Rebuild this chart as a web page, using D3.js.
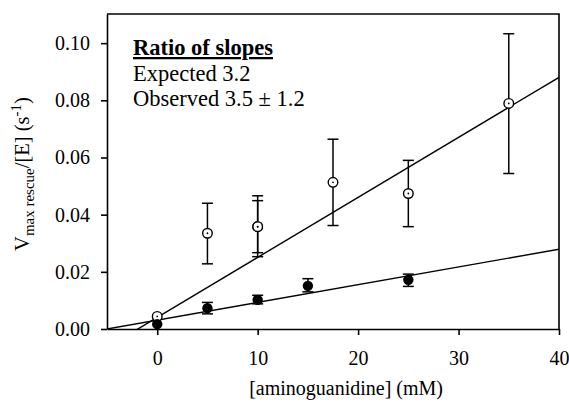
<!DOCTYPE html>
<html lang="en">
<head>
<meta charset="UTF-8">
<title>Vmax rescue vs aminoguanidine</title>
<style>
  html, body { margin: 0; padding: 0; background: #fff; overflow: hidden; }
  .tick line, .domain { stroke: #000; stroke-width: 1.6; }
</style>
<script src="https://cdn.jsdelivr.net/npm/d3@7"></script>
</head>
<body>
<svg id="chart" width="569" height="405" font-family="Liberation Serif"></svg>
<script>
// x values (mM) and y values (s^-1), with error bar ends
const openX   = [0, 5, 10, 10, 17.5, 25, 35]
const openY   = [0.0044, 0.0335, 0.0358, 0.0358, 0.0513, 0.0474, 0.0789]
const openLo  = [0.0044, 0.0228, 0.0253, 0.0267, 0.0362, 0.0358, 0.0544]
const openHi  = [0.0044, 0.0440, 0.0466, 0.0449, 0.0664, 0.0590, 0.1033]

const filledX  = [0, 5, 10, 15, 25]
const filledY  = [0.0017, 0.0073, 0.0102, 0.0151, 0.0172]
const filledLo = [0.0017, 0.0053, 0.0088, 0.0130, 0.0149]
const filledHi = [0.0017, 0.0093, 0.0118, 0.0176, 0.0192]

// linear fits: [slope, intercept]
const openFit   = [0.0021, 0.00405]
const filledFit = [0.00062, 0.0031]

const xTicks = [0, 10, 20, 30, 40]
const yTicks = [0, 0.02, 0.04, 0.06, 0.08, 0.10]

const legendLines = ['Expected 3.2', 'Observed 3.5 \u00b1 1.2']

const FONT = 'Liberation Serif'

const margin = { top: 14, right: 10, bottom: 76, left: 107 }
const svg = d3.select('#chart')
const W = +svg.attr('width') - margin.left - margin.right
const H = +svg.attr('height') - margin.top - margin.bottom

const chart = svg.append('g')
  .attr('transform', `translate(${margin.left}, ${margin.top})`)

const x = d3.scaleLinear().domain([-5, 40]).range([0, W])
const y = d3.scaleLinear().domain([0, 0.1102]).range([H, 0])

// axes
const xAxis = chart.append('g')
  .attr('transform', `translate(0, ${H})`)
  .call(d3.axisBottom(x).tickValues(xTicks).tickSize(6).tickPadding(16).tickSizeOuter(0))
const yAxis = chart.append('g')
  .call(d3.axisLeft(y).tickValues(yTicks).tickFormat(d3.format('.2f')).tickSize(6).tickPadding(11).tickSizeOuter(0))
xAxis.attr('font-family', FONT).attr('font-size', 20)
yAxis.attr('font-family', FONT).attr('font-size', 20)

// frame top + right
chart.append('path')
  .attr('d', `M0,0H${W}V${H}`)
  .attr('fill', 'none')
  .attr('stroke', '#000')
  .attr('stroke-width', 1.6)

// clip for fit lines
chart.append('clipPath').attr('id', 'clip')
  .append('rect').attr('width', W).attr('height', H)

const fitLine = (f) => {
  const xs = x.domain()
  return d3.line()(xs.map(v => [x(v), y(f[0] * v + f[1])]))
}
chart.append('path').attr('d', fitLine(openFit))
  .attr('clip-path', 'url(#clip)').attr('stroke', '#000').attr('stroke-width', 1.4).attr('fill', 'none')
chart.append('path').attr('d', fitLine(filledFit))
  .attr('clip-path', 'url(#clip)').attr('stroke', '#000').attr('stroke-width', 1.4).attr('fill', 'none')

// error bars
function errorBars(xs, lo, hi) {
  const g = chart.append('g').attr('stroke', '#000').attr('stroke-width', 1.5)
  xs.forEach((v, i) => {
    if (hi[i] - lo[i] < 0.001) return
    g.append('line').attr('x1', x(v)).attr('x2', x(v)).attr('y1', y(lo[i])).attr('y2', y(hi[i]))
    ;[lo[i], hi[i]].forEach(e => {
      g.append('line').attr('x1', x(v) - 5.5).attr('x2', x(v) + 5.5).attr('y1', y(e)).attr('y2', y(e))
    })
  })
}
errorBars(openX, openLo, openHi)
errorBars(filledX, filledLo, filledHi)

// open markers
chart.selectAll('.open').data(openX).enter().append('circle')
  .attr('class', 'open')
  .attr('cx', d => x(d)).attr('cy', (d, i) => y(openY[i]))
  .attr('r', 4.8).attr('fill', '#fff').attr('stroke', '#000').attr('stroke-width', 1.4)
chart.selectAll('.opendot').data(openX).enter().append('circle')
  .attr('class', 'opendot')
  .attr('cx', d => x(d)).attr('cy', (d, i) => y(openY[i]))
  .attr('r', 0.9).attr('fill', '#000')

// filled markers
chart.selectAll('.filled').data(filledX).enter().append('circle')
  .attr('class', 'filled')
  .attr('cx', d => x(d)).attr('cy', (d, i) => y(filledY[i]))
  .attr('r', 5.2).attr('fill', '#000')

// legend text
const legend = chart.append('g').attr('transform', 'translate(26, 41)')
legend.append('text')
  .attr('font-size', 22.5).attr('font-weight', 'bold')
  .attr('text-decoration', 'underline')
  .text('Ratio of slopes')
legend.selectAll('.lg').data(legendLines).enter().append('text')
  .attr('class', 'lg')
  .attr('y', (d, i) => 25.5 * (i + 1))
  .attr('font-size', 22.5)
  .text(d => d)

// axis labels
svg.append('text')
  .attr('x', margin.left + x(18.8))
  .attr('y', 395)
  .attr('text-anchor', 'middle')
  .attr('font-size', 20)
  .text('[aminoguanidine] (mM)')

const yl = svg.append('text')
  .attr('transform', 'translate(28.5, 174) rotate(-90)')
  .attr('text-anchor', 'middle')
  .attr('font-size', 20.5)
yl.append('tspan').text('V')
yl.append('tspan').attr('font-size', 15).attr('dy', 5).text('max rescue')
yl.append('tspan').attr('dy', -5).text('/[E] (s')
yl.append('tspan').attr('font-size', 15).attr('dy', -8).text('-1')
yl.append('tspan').attr('dy', 8).text(')')

svg.selectAll('text').attr('font-family', FONT).attr('fill', '#000')
</script>
</body>
</html>
